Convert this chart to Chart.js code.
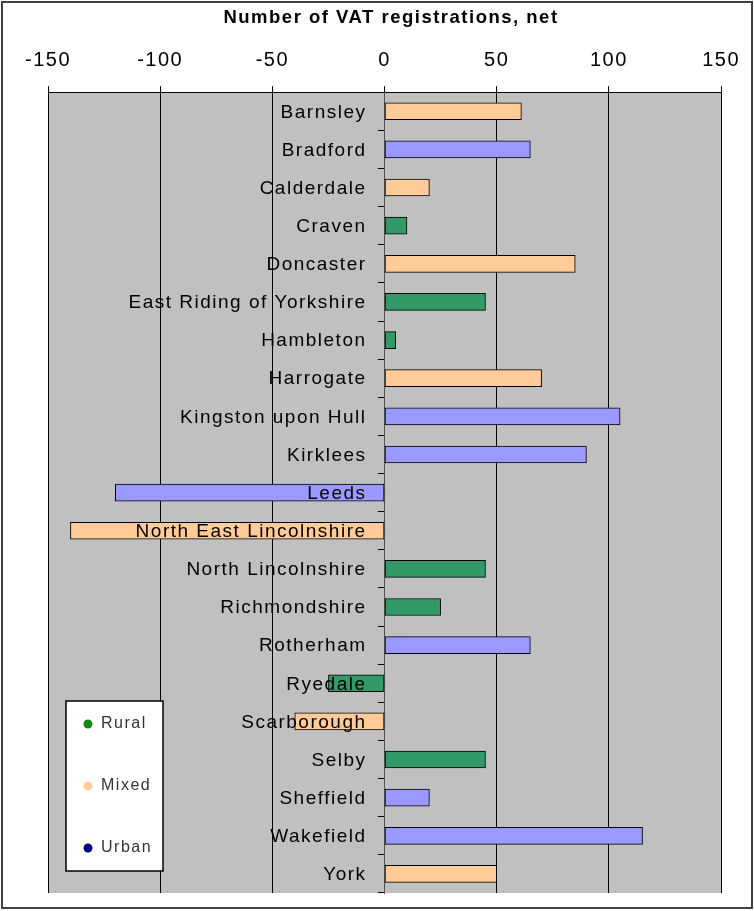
<!DOCTYPE html>
<html>
<head>
<meta charset="utf-8">
<script src="https://cdn.jsdelivr.net/npm/chart.js@4/dist/chart.umd.min.js"></script>
<style>
  html, body { margin: 0; padding: 0; background: #fff; }
  #wrap { width: 754px; height: 911px; }
</style>
</head>
<body>
<div id="wrap"><canvas id="vat_chart"></canvas></div>
<script>
const categories = ['Barnsley', 'Bradford', 'Calderdale', 'Craven', 'Doncaster',
  'East Riding of Yorkshire', 'Hambleton', 'Harrogate', 'Kingston upon Hull', 'Kirklees',
  'Leeds', 'North East Lincolnshire', 'North Lincolnshire', 'Richmondshire', 'Rotherham',
  'Ryedale', 'Scarborough', 'Selby', 'Sheffield', 'Wakefield', 'York'];
const netRegistrations = [61, 65, 20, 10, 85, 45, 5, 70, 105, 90, -120, -140, 45, 25, 65, -25, -40, 45, 20, 115, 50];
const areaType = ['Mixed', 'Urban', 'Mixed', 'Rural', 'Mixed', 'Rural', 'Rural', 'Mixed', 'Urban', 'Urban',
  'Urban', 'Mixed', 'Rural', 'Rural', 'Urban', 'Rural', 'Mixed', 'Rural', 'Urban', 'Urban', 'Mixed'];
const xTicks = [-150, -100, -50, 0, 50, 100, 150];

const typeNames = ['Rural', 'Mixed', 'Urban'];
const barColors = ['#339966', '#ffcc99', '#9999ff'];
const dotColors = ['#108a10', '#ffcc99', '#000080'];

const FONT = "'Liberation Sans', Arial, sans-serif";

// canvas letter spacing, the original text is spread out a bit
const spacing = {
  id: 'spacing',
  beforeUpdate(chart) { chart.ctx.letterSpacing = '1.5px'; },
  beforeLayout(chart) { chart.ctx.letterSpacing = '1.5px'; },
  beforeDraw(chart) { chart.ctx.letterSpacing = '1.5px'; }
};

const plotBg = {
  id: 'plotBg',
  beforeDraw(chart) {
    const a = chart.chartArea;
    const ctx = chart.ctx;
    ctx.save();
    ctx.fillStyle = '#c0c0c0';
    ctx.fillRect(a.left, a.top, a.right - a.left, a.bottom - a.top);
    ctx.restore();
  }
};

// category names sit left of the zero line, on top of the bars
const catLabels = {
  id: 'catLabels',
  afterDatasetsDraw(chart) {
    const ys = chart.scales.y;
    const x0 = chart.scales.x.getPixelForValue(0) - 18;
    const ctx = chart.ctx;
    ctx.save();
    ctx.font = '19px ' + FONT;
    ctx.fillStyle = '#000';
    ctx.textAlign = 'right';
    ctx.textBaseline = 'middle';
    ys.ticks.forEach((t, i) => {
      ctx.fillText(ys.getLabelForValue(t.value), x0, ys.getPixelForTick(i) + 1);
    });
    ctx.restore();
  }
};

const boxLegend = {
  id: 'boxLegend',
  afterDraw(chart) {
    const a = chart.chartArea;
    const ctx = chart.ctx;
    const x = a.left + 18, y = a.bottom - 192, w = 97, h = 170;
    ctx.save();
    ctx.fillStyle = '#ffffff';
    ctx.fillRect(x, y, w, h);
    ctx.strokeStyle = '#000';
    ctx.lineWidth = 1.5;
    ctx.strokeRect(x, y, w, h);
    ctx.font = '16px ' + FONT;
    ctx.textBaseline = 'middle';
    chart.data.datasets.forEach((ds, i) => {
      const cy = y + 23 + i * 62;
      ctx.fillStyle = dotColors[i];
      ctx.beginPath();
      ctx.arc(x + 22, cy, 4.5, 0, Math.PI * 2);
      ctx.fill();
      ctx.fillStyle = '#333';
      ctx.fillText(ds.label, x + 35, cy);
    });
    // outer frame
    ctx.strokeStyle = '#404040';
    ctx.lineWidth = 2;
    ctx.strokeRect(2, 2, chart.width - 4, chart.height - 5);
    ctx.restore();
  }
};

const datasets = typeNames.map((t, i) => ({
  label: t,
  data: netRegistrations.map((v, j) => areaType[j] === t ? v : null),
  backgroundColor: barColors[i],
  borderColor: '#000',
  borderWidth: 1,
  borderSkipped: false,
  barThickness: 17,
  grouped: false
}));

const ctx = document.getElementById('vat_chart');

new Chart(ctx, {
  type: 'bar',
  data: {
    labels: categories,
    datasets: datasets
  },
  options: {
    indexAxis: 'y',
    responsive: true,
    maintainAspectRatio: false,
    animation: false,
    events: [],
    layout: { padding: { left: 48, right: 20, top: 4, bottom: 18 } },
    plugins: {
      legend: { display: false },
      tooltip: { enabled: false },
      title: {
        display: true,
        text: 'Number of VAT registrations, net',
        color: '#000',
        font: { family: FONT, size: 18.5, weight: 'bold' },
        padding: { top: 3, bottom: 5 }
      }
    },
    scales: {
      x: {
        position: 'top',
        min: -150,
        max: 150,
        afterBuildTicks(scale) { scale.ticks = xTicks.map(v => ({ value: v })); },
        ticks: {
          color: '#000',
          font: { family: FONT, size: 20 },
          padding: 14,
          maxRotation: 0
        },
        grid: { color: '#000', lineWidth: 1, tickLength: 6 },
        border: { display: true, color: '#000', width: 1 }
      },
      y: {
        position: { x: 0 },
        offset: true,
        ticks: { display: false },
        grid: { drawOnChartArea: false, drawTicks: true, tickLength: 6, color: '#000', offset: true },
        border: { display: true, color: '#505050', width: 1 }
      }
    }
  },
  plugins: [spacing, plotBg, catLabels, boxLegend]
});
</script>
</body>
</html>
